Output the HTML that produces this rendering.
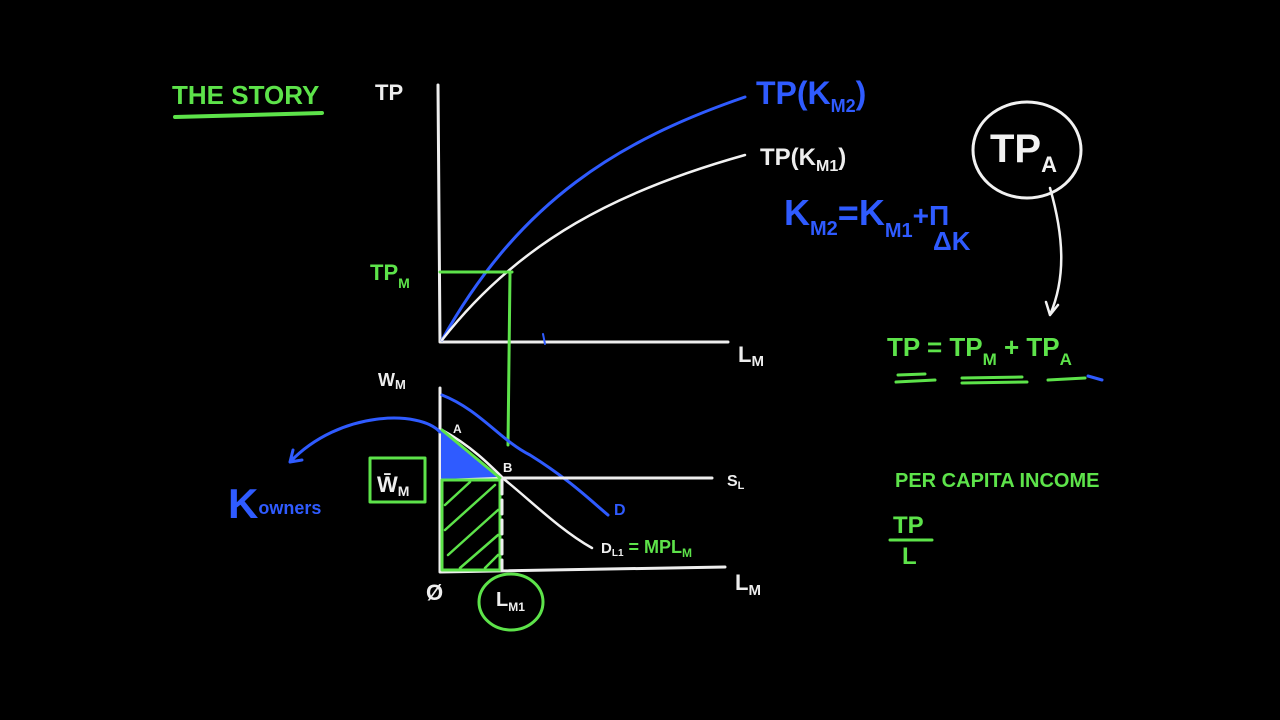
<!DOCTYPE html>
<html><head><meta charset="utf-8"><style>
html,body{margin:0;padding:0;background:#000;}
svg{display:block}
text{font-family:"Liberation Sans",sans-serif;font-weight:bold;}
</style></head><body>
<svg width="1280" height="720" viewBox="0 0 1280 720" xmlns="http://www.w3.org/2000/svg">
<rect width="1280" height="720" fill="#000"/>
<g fill="none" stroke-linecap="round" stroke-linejoin="round">
<!-- upper axes -->
<path d="M438 85 L440 342 L728 342" stroke="#eee" stroke-width="3"/>
<path d="M442 340 C520 200 620 140 745 97" stroke="#2f5bff" stroke-width="3"/>
<path d="M442 340 C520 240 620 190 745 155" stroke="#f2f2f2" stroke-width="2.5"/>
<path d="M440 272 L512 272 M510 272 L508 445" stroke="#5de34a" stroke-width="3"/>
<path d="M543 334 L545 344" stroke="#2f5bff" stroke-width="2"/>
<!-- lower axes -->
<path d="M440 388 L440 572 L725 567" stroke="#eee" stroke-width="3"/>
<path d="M442 395 C480 410 500 440 530 455 C570 480 590 500 608 515" stroke="#2f5bff" stroke-width="3"/>
<path d="M442 430 C470 445 490 465 505 480 C530 500 560 530 592 548" stroke="#f2f2f2" stroke-width="2.5"/>
<path d="M442 478 L712 478" stroke="#eee" stroke-width="3"/>
<path d="M442 432 L442 478 L496 476 Z" fill="#2f5bff" stroke="#2f5bff" stroke-width="2"/>
<path d="M442 430 L500 478" stroke="#5de34a" stroke-width="3"/>
<path d="M442 480 L500 480 L500 570 L442 570 Z" stroke="#5de34a" stroke-width="3"/>
<path d="M445 505 L470 482 M445 530 L495 485 M448 555 L498 510 M460 568 L498 535 M485 568 L498 555" stroke="#5de34a" stroke-width="2.5"/>
<path d="M502 480 L502 570" stroke="#eee" stroke-width="3" stroke-dasharray="14 6"/>
<rect x="370" y="458" width="55" height="44" stroke="#5de34a" stroke-width="3"/>
<path d="M440 432 C420 410 340 410 290 462 M290 462 L302 460 M290 462 L293 450" stroke="#2f5bff" stroke-width="3"/>
<ellipse cx="511" cy="602" rx="32" ry="28" stroke="#5de34a" stroke-width="3"/>
<!-- TP_A circle and arrow -->
<ellipse cx="1027" cy="150" rx="54" ry="48" stroke="#f2f2f2" stroke-width="3"/>
<path d="M1050 188 C1065 240 1065 280 1050 315 M1050 315 L1046 302 M1050 315 L1058 305" stroke="#f2f2f2" stroke-width="2.5"/>
<!-- underlines -->
<path d="M175 117 L322 113" stroke="#5de34a" stroke-width="4"/>
<path d="M898 375 L925 374 M896 382 L935 380 M962 378 L1022 377 M962 383 L1027 382 M1048 380 L1085 378" stroke="#5de34a" stroke-width="3"/>
<path d="M1088 376 L1102 380" stroke="#2f5bff" stroke-width="3"/>
<path d="M890 540 L932 540" stroke="#5de34a" stroke-width="3"/>
</g>
<g font-size="24">
<text x="172" y="104" fill="#5de34a" font-size="26">THE STORY</text>
<text x="375" y="100" fill="#eee" font-size="22">TP</text>
<text x="756" y="104" fill="#2f5bff" font-size="32" font-weight="normal">TP(K<tspan font-size="18" dy="8">M2</tspan><tspan dy="-8">)</tspan></text>
<text x="760" y="165" fill="#eee" font-size="24" font-weight="normal">TP(K<tspan font-size="16" dy="6">M1</tspan><tspan dy="-6">)</tspan></text>
<text x="784" y="225" fill="#2f5bff" font-size="36" font-weight="normal">K<tspan font-size="20" dy="10">M2</tspan><tspan dy="-10">=K</tspan><tspan font-size="20" dy="12">M1</tspan><tspan dy="-12" font-size="28">+Π</tspan></text>
<text x="933" y="250" fill="#2f5bff" font-size="26" font-weight="normal">ΔK</text>
<text x="990" y="162" fill="#f2f2f2" font-size="40" font-weight="normal">TP<tspan font-size="22" dy="10">A</tspan></text>
<text x="370" y="280" fill="#5de34a" font-size="22">TP<tspan font-size="14" dy="8">M</tspan></text>
<text x="738" y="362" fill="#eee" font-size="22">L<tspan font-size="15" dy="4">M</tspan></text>
<text x="378" y="386" fill="#eee" font-size="18">W<tspan font-size="13" dy="3">M</tspan></text>
<text x="377" y="492" fill="#eee" font-size="22">W̄<tspan font-size="14" dy="4">M</tspan></text>
<text x="453" y="433" fill="#eee" font-size="12">A</text>
<text x="503" y="472" fill="#eee" font-size="13">B</text>
<text x="727" y="486" fill="#eee" font-size="16">S<tspan font-size="11" dy="3">L</tspan></text>
<text x="614" y="515" fill="#2f5bff" font-size="16">D</text>
<text x="601" y="553" fill="#eee" font-size="15">D<tspan font-size="10" dy="3">L1</tspan><tspan dy="-3" fill="#5de34a" font-size="18"> = MPL<tspan font-size="12" dy="4">M</tspan></tspan></text>
<text x="228" y="518" fill="#2f5bff" font-size="42" font-weight="normal">K<tspan font-size="18" dy="-4" font-weight="bold">owners</tspan></text>
<text x="426" y="600" fill="#eee" font-size="22">Ø</text>
<text x="496" y="606" fill="#eee" font-size="20">L<tspan font-size="12" dy="5">M1</tspan></text>
<text x="735" y="590" fill="#eee" font-size="22">L<tspan font-size="15" dy="5">M</tspan></text>
<text x="887" y="356" fill="#5de34a" font-size="26">TP = TP<tspan font-size="17" dy="9">M</tspan><tspan dy="-9"> + TP</tspan><tspan font-size="17" dy="9">A</tspan></text>
<text x="895" y="487" fill="#5de34a" font-size="20">PER CAPITA INCOME</text>
<text x="893" y="533" fill="#5de34a" font-size="24">TP</text>
<text x="902" y="564" fill="#5de34a" font-size="24">L</text>
</g>
</svg>
</body></html>
